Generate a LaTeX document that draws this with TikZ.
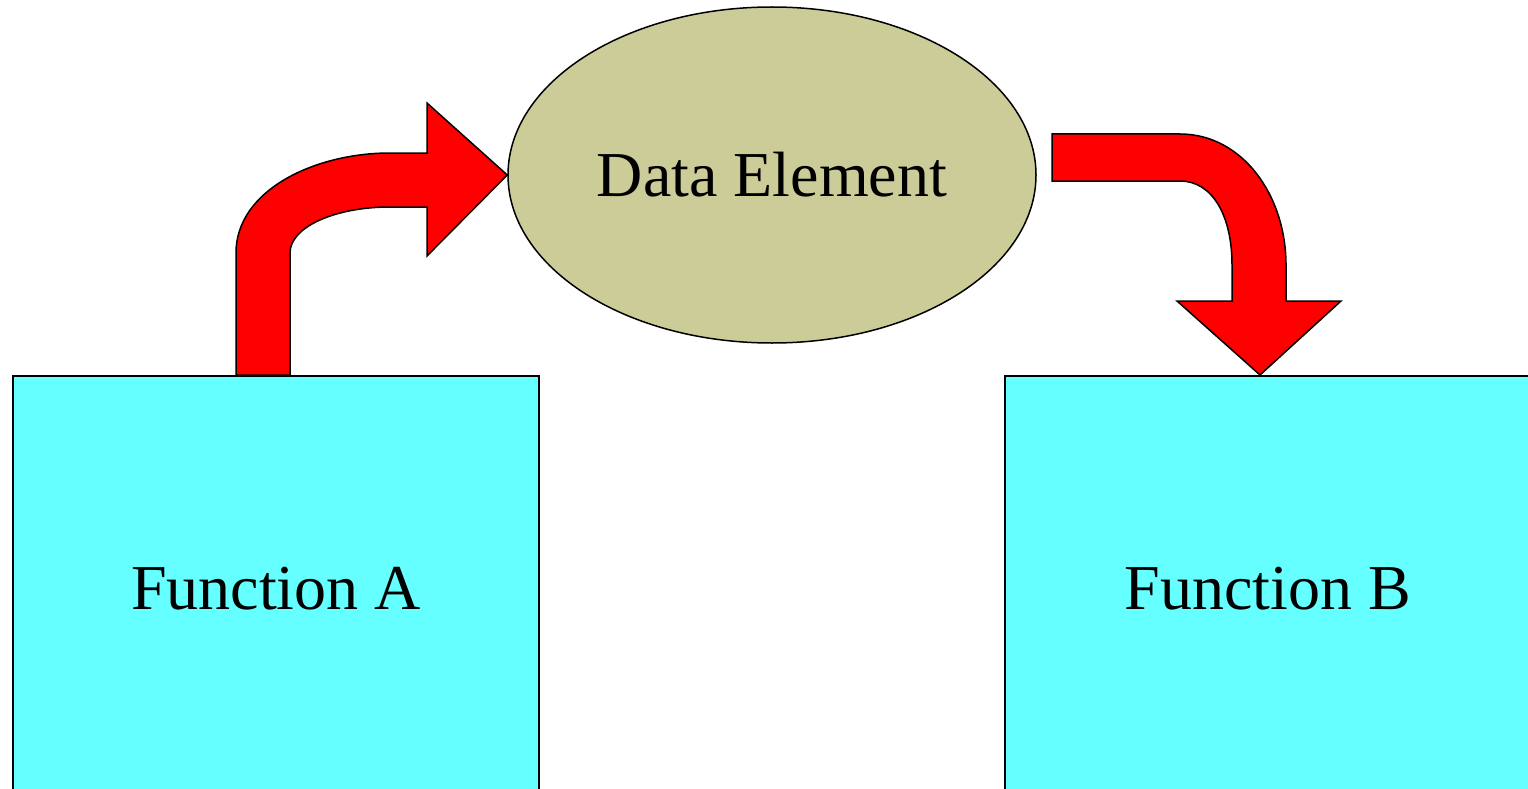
\documentclass[tikz,border=0pt]{standalone}
\usepackage{fontspec}
\setmainfont{Liberation Serif}
\usepackage{tikz}
\usetikzlibrary{shapes.geometric, calc, positioning}
\definecolor{boxcyan}{HTML}{66FFFF}
\definecolor{datakhaki}{HTML}{CCCC99}
\definecolor{arrowred}{HTML}{FF0000}
\tikzset{
  funcbox/.style={draw=black, line width=2pt, fill=boxcyan, rectangle, anchor=north west,
    minimum width=526pt, minimum height=426pt, inner sep=0pt},
  dataell/.style={draw=black, line width=1.5pt, fill=datakhaki, ellipse,
    minimum width=528pt, minimum height=336pt, inner sep=0pt},
  bigarrow/.style={draw=black, line width=1.5pt, fill=arrowred, line join=miter}
}

\begin{document}
\begin{tikzpicture}[x=1pt, y=-1pt, font=\fontsize{64}{76}\selectfont]
			\useasboundingbox (0,0) rectangle (1528,789);
			\clip (0,0) rectangle (1528,789);
			\node [funcbox] (fa) at (12,375) {Function A};
			\node [funcbox] (fb) at (1004,375) {Function B};
			\node [dataell] (data) at (772,175) {Data Element};
			% bent arrow from Function A up into the data element
			\filldraw [bigarrow] ($(fa.north west)+(224,0)$) -- (236,253)
				.. controls (236,190) and (315,153) .. (390,153) -- (427,153) -- (427,103)
				-- (data.west) -- (427,256) -- (427,207) -- (390,207)
				.. controls (335,207) and (290,227) .. (290,253) -- ($(fa.north west)+(278,0)$) -- cycle;
			% bent arrow from the data element down onto Function B
			\filldraw [bigarrow] (1052,134) -- (1180,134)
				.. controls (1242,134) and (1286,195) .. (1286,265) -- (1286,301) -- (1341,301)
				-- ($(fb.north)+(-8,0)$) -- (1177,301) -- (1232,301) -- (1232,265)
				.. controls (1232,215) and (1212,181) .. (1180,181) -- (1052,181) -- cycle;
		\end{tikzpicture}
\end{document}
